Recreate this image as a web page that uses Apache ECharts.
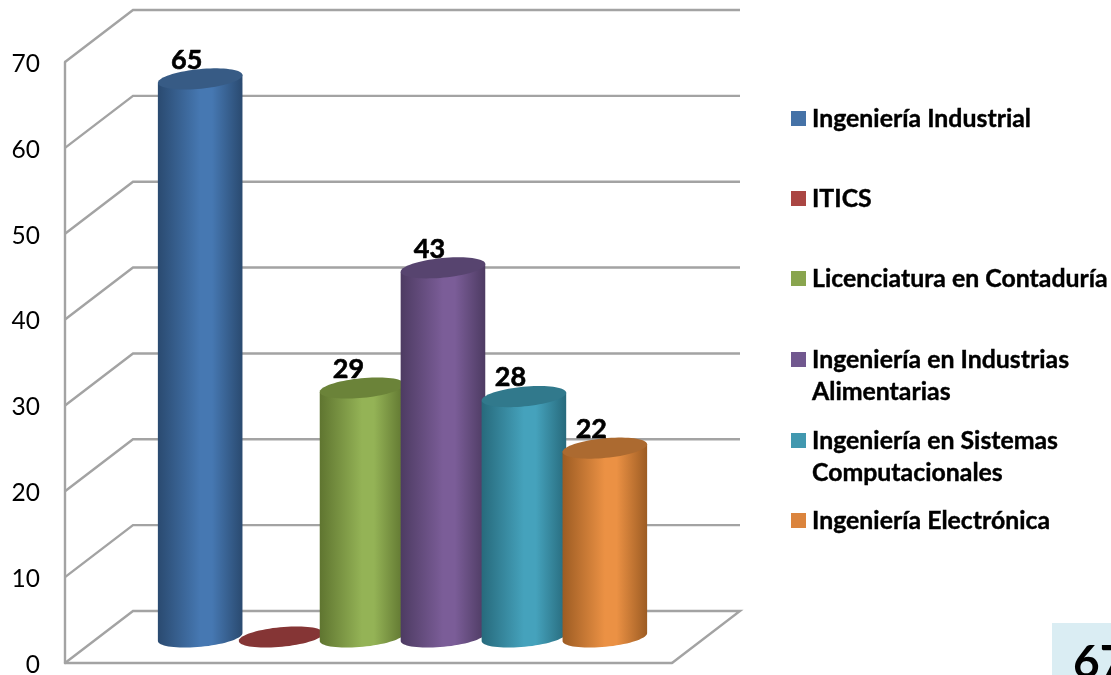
<!DOCTYPE html>
<html><head><meta charset="utf-8">
<style>html,body{margin:0;padding:0;background:#fff}#c{width:1111px;height:675px}</style>
<script src="https://cdn.jsdelivr.net/npm/echarts@6/dist/echarts.min.js"></script>
</head><body><div id="c"></div>
<script>
var categories = [''];
var departments = ['Ingeniería Industrial','ITICS','Licenciatura en Contaduría','Ingeniería en Industrias\nAlimentarias','Ingeniería en Sistemas\nComputacionales','Ingeniería Electrónica'];
var values = [65, 0, 29, 43, 28, 22];
var yTicks = [0,10,20,30,40,50,60,70];
var flat   = ['#4572A7','#AA4643','#89A54E','#71588F','#4198AF','#DB843D'];
var light  = ['#4678B2','#A54A48','#94B356','#7B5D98','#45A2BC','#EB9144'];
var dark   = ['#2A4A70','#632523','#5F7530','#4D3B62','#276A7C','#9D5C23'];
var topCol = ['#375B85','#853535','#6B8339','#57446F','#31798C','#AC6A30'];
var legendY = [118.5,198.5,278.5,375.5,456.5,520.5];
var boxValue = '67';

var DX = 68, DY = 52, LINE = '#A3A3A3';
var chart = echarts.init(document.getElementById('c'));

function wallItem(params, api){
  var p = api.coord([0, api.value(1)]);
  var left = api.coord([0, 0])[0] - api.size([1,0])[0]/2;
  var w = api.size([1,0])[0];
  var pts = [[left,p[1]],[left+DX,p[1]-DY],[left+w+DX,p[1]-DY]];
  if (api.value(1) === 0) pts.push([left+w,p[1]]);
  return {type:'polyline', shape:{points:pts}, style:{stroke:LINE, lineWidth:2.4, fill:null}};
}

function cylinder(idx){
  return function(params, api){
    var band = api.size([1,0])[0];
    var unit = band/(departments.length + 1.5);
    var cx = api.coord([0,0])[0] + DX/2 + (idx - (departments.length-1)/2)*unit;
    var base = api.coord([0,0])[1] - DY/2;
    var v = api.value(1);
    var top = api.coord([0,v])[1] - DY/2;
    var rx = unit*0.525, ry = 9.8, tilt = -5.5*Math.PI/180;
    function pt(y,a){
      return [cx + rx*Math.cos(a)*Math.cos(tilt) - ry*Math.sin(a)*Math.sin(tilt),
              y + rx*Math.cos(a)*Math.sin(tilt) + ry*Math.sin(a)*Math.cos(tilt)];
    }
    var cap = [], body = [], k;
    for (k=0;k<72;k++) cap.push(pt(top,k/72*2*Math.PI));
    var children = [];
    if (v > 0){
      for (k=0;k<=36;k++) body.push(pt(base,Math.PI - k/36*Math.PI));
      body.push(pt(top,0)); body.push(pt(top,Math.PI));
      children.push({type:'polygon', shape:{points:body}, style:{
        fill:new echarts.graphic.LinearGradient(0,0,1,0,[
          {offset:0,color:dark[idx]},{offset:0.5,color:light[idx]},{offset:0.64,color:light[idx]},{offset:1,color:dark[idx]}])}});
    }
    children.push({type:'polygon', shape:{points:cap}, style:{fill:topCol[idx]}});
    if (v > 0){
      children.push({type:'text', style:{text:String(v), x:cx-13.5, y:top-19, align:'center', verticalAlign:'middle',
        font:'bold 27px Lato', fill:'#000', stroke:'#000', lineWidth:0.6}});
    }
    return {type:'group', children:children};
  };
}

var series = [{
  type:'custom', name:'walls', silent:true, z:1, clip:false,
  data:yTicks.map(function(t){return [0,t];}), renderItem:wallItem
}];
departments.forEach(function(name,i){
  series.push({type:'custom', name:name, z:2+i, clip:false, itemStyle:{color:flat[i]},
    data:[[0,values[i]]], renderItem:cylinder(i)});
});

var twoLine = 'path://M0 0H15V15H0ZM0 47H0.01V47.01H0Z';
var legends = departments.map(function(name,i){
  var multi = name.indexOf('\n')>=0;
  return {data:[{name:name, icon: multi ? twoLine : 'rect'}], orient:'vertical', left:791, padding:0,
    top: legendY[i] - (multi ? 32 : 16),
    itemWidth:15, itemHeight: multi ? 47 : 15, itemGap:0, selectedMode:false,
    textStyle:{fontFamily:'Lato', fontWeight:'bold', fontSize:24.85, lineHeight:32, color:'#000', padding:[0,0,0,1],
      textBorderColor:'#000', textBorderWidth:0.4}};
});

chart.setOption({
  animation:false,
  backgroundColor:'#fff',
  grid:{left:65, top:62, width:607, height:601, outerBoundsMode:'none'},
  xAxis:{type:'category', data:categories, axisTick:{show:false}, axisLabel:{show:false},
    axisLine:{lineStyle:{color:LINE,width:2.4}}},
  yAxis:{type:'value', min:0, max:70, interval:10, splitLine:{show:false}, axisTick:{show:false},
    axisLine:{show:true, lineStyle:{color:LINE,width:2.4}},
    axisLabel:{margin:25, fontFamily:'Lato', fontSize:24.5, color:'#000', verticalAlign:'top', padding:[-10,0,0,0], lineHeight:24}},
  legend:legends,
  tooltip:{show:false},
  series:series,
  graphic:[
    {type:'rect', left:1052, top:623, shape:{width:59,height:52}, style:{fill:'#DAEDF3'}, z:0},
    {type:'text', left:1073, top:640, style:{text:boxValue, font:'bold 46px Lato', fill:'#000'}, z:1}
  ]
});
</script></body></html>
